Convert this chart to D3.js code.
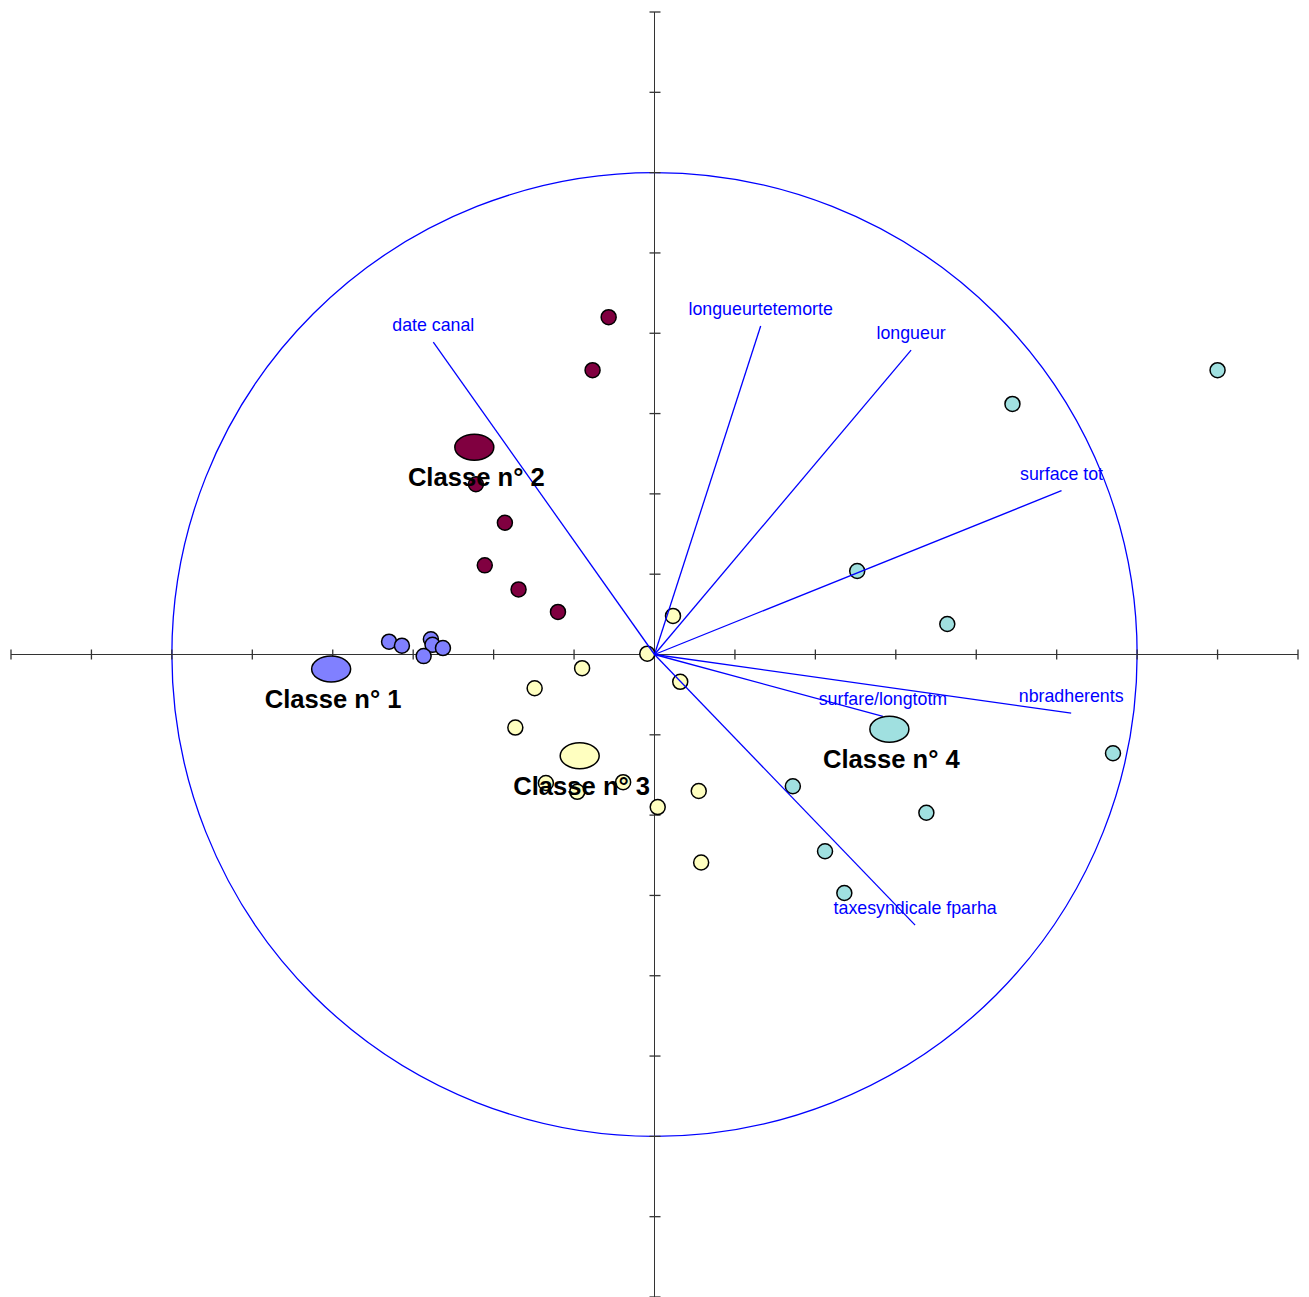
<!DOCTYPE html>
<html>
<head>
<meta charset="utf-8">
<script src="https://cdn.jsdelivr.net/npm/d3@7"></script>
<style>
  body { margin: 0; background: #fff; }
  svg { display: block; }
</style>
</head>
<body>
<svg id="chart"></svg>
<script>
// individuals per class (factor coordinates, axis units)
let class1 = [[-3.30, 0.16], [-3.14, 0.11], [-2.78, 0.19], [-2.76, 0.12], [-2.63, 0.08], [-2.87, -0.02]];
let class2 = [[-0.57, 4.20], [-0.77, 3.54], [-2.22, 2.12], [-1.86, 1.64], [-2.11, 1.11], [-1.69, 0.81], [-1.20, 0.53]];
let class3 = [[0.23, 0.48], [-0.09, 0.01], [-0.90, -0.17], [-1.49, -0.42], [0.32, -0.34], [-1.73, -0.91],
    [-1.35, -1.60], [-0.96, -1.71], [-0.39, -1.59], [0.55, -1.70], [0.04, -1.90], [0.58, -2.59]];
let class4 = [[7.00, 3.54], [4.45, 3.12], [2.52, 1.04], [3.64, 0.38], [5.70, -1.23], [3.38, -1.97],
    [1.72, -1.64], [2.12, -2.45], [2.36, -2.97]];

let classNames = ["Classe n° 1", "Classe n° 2", "Classe n° 3", "Classe n° 4"];
let classColors = ["#8080ff", "#800040", "#ffffc0", "#a0e0e0"];
let centroids = [[-4.02, -0.18], [-2.24, 2.58], [-0.93, -1.26], [2.92, -0.93]];

// variables (correlation circle)
let varNames = ["date canal", "longueurtetemorte", "longueur", "surface tot", "nbradherents", "surfare/longtotm", "taxesyndicale fparha"];
let varX = [-2.75, 1.32, 3.19, 5.06, 5.18, 2.84, 3.24];
let varY = [3.89, 4.09, 3.79, 2.04, -0.73, -0.77, -3.37];

let circleRadius = 6;
let ticks = d3.range(-8, 9).filter(d => d !== 0);

let width = 1309, height = 1297;
let svg = d3.select("#chart").attr("width", width).attr("height", height);

let x = d3.scaleLinear().domain([-8, 8]).range([11, 1298]);
let y = d3.scaleLinear().domain([8, -8]).range([12, 1297]);

// correlation circle
svg.append("ellipse")
    .attr("cx", x(0)).attr("cy", y(0))
    .attr("rx", x(circleRadius) - x(0))
    .attr("ry", y(0) - y(circleRadius))
    .attr("fill", "none")
    .attr("stroke", "#0000ff")
    .attr("stroke-width", 1.3);

// axes through the origin
let axisColor = "#333";
svg.append("line")
    .attr("x1", x(-8)).attr("x2", x(8))
    .attr("y1", y(0)).attr("y2", y(0))
    .attr("stroke", axisColor);
svg.append("line")
    .attr("x1", x(0)).attr("x2", x(0))
    .attr("y1", y(8)).attr("y2", y(-8))
    .attr("stroke", axisColor);
svg.selectAll(".xtick").data(ticks).enter().append("line")
    .attr("x1", d => x(d)).attr("x2", d => x(d))
    .attr("y1", y(0) - 5).attr("y2", y(0) + 5)
    .attr("stroke", axisColor).attr("stroke-width", 1.3);
svg.selectAll(".ytick").data(ticks).enter().append("line")
    .attr("x1", x(0) - 5).attr("x2", x(0) + 6)
    .attr("y1", d => y(d)).attr("y2", d => y(d))
    .attr("stroke", axisColor).attr("stroke-width", 1.3);

// individuals
let classes = [class1, class2, class3, class4];
classes.forEach((pts, i) => {
    svg.append("g").selectAll("circle")
        .data(pts).enter().append("circle")
        .attr("cx", d => x(d[0]))
        .attr("cy", d => y(d[1]))
        .attr("r", 7.5)
        .attr("fill", classColors[i])
        .attr("stroke", "#000")
        .attr("stroke-width", 1.5);
});

// variable vectors
let vars = varNames.map((n, i) => ({name: n, x: varX[i], y: varY[i]}));
svg.append("g").selectAll("line")
    .data(vars).enter().append("line")
    .attr("x1", x(0)).attr("y1", y(0))
    .attr("x2", d => x(d.x)).attr("y2", d => y(d.y))
    .attr("stroke", "#0000ff")
    .attr("stroke-width", 1.3);

// class centroids
svg.append("g").selectAll("ellipse")
    .data(centroids).enter().append("ellipse")
    .attr("cx", d => x(d[0]))
    .attr("cy", d => y(d[1]))
    .attr("rx", 19.5).attr("ry", 13)
    .attr("fill", (d, i) => classColors[i])
    .attr("stroke", "#000")
    .attr("stroke-width", 1.5);

svg.append("g").selectAll("text")
    .data(vars).enter().append("text")
    .attr("x", d => x(d.x))
    .attr("y", d => y(d.y) - 11)
    .attr("text-anchor", "middle")
    .attr("font-family", "Liberation Sans, Arial, sans-serif")
    .attr("font-size", 17.8)
    .attr("fill", "#0000ff")
    .text(d => d.name);

svg.append("g").selectAll("text")
    .data(centroids).enter().append("text")
    .attr("x", d => x(d[0]) + 2)
    .attr("y", d => y(d[1]) + 39)
    .attr("text-anchor", "middle")
    .attr("font-family", "Liberation Sans, Arial, sans-serif")
    .attr("font-weight", "bold")
    .attr("font-size", 25.6)
    .attr("fill", "#000")
    .text((d, i) => classNames[i]);
</script>
</body>
</html>
